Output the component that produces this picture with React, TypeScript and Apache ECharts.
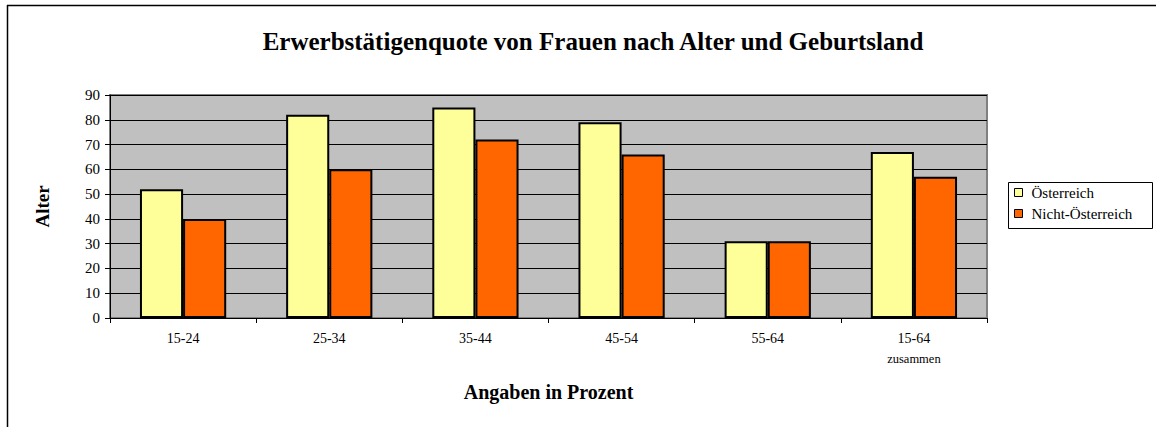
import React, { useEffect, useRef } from "react";
import * as echarts from "echarts";

const categories = ["15-24", "25-34", "35-44", "45-54", "55-64", "15-64\nzusammen"];
const oesterreich = [52, 82, 85, 79, 31, 67];
const nichtOesterreich = [40, 60, 72, 66, 31, 57];
const seriesNames = ["Österreich", "Nicht-Österreich"];
const titleText = "Erwerbstätigenquote von Frauen nach Alter und Geburtsland";
const yAxisTitle = "Alter";
const xAxisTitle = "Angaben in Prozent";

const SERIF = "'Liberation Serif', 'DejaVu Serif', serif";

export default function App() {
  const ref = useRef<HTMLDivElement>(null);
  useEffect(() => {
    if (!ref.current) return;
    const chart = echarts.init(ref.current, null, { renderer: "svg" });
    chart.setOption({
      animation: false,
      backgroundColor: "#ffffff",
      title: {
        text: titleText,
        left: 588,
        textAlign: "center",
        top: 24,
        textStyle: { fontFamily: SERIF, fontWeight: "bold", fontSize: 25, color: "#000" },
      },
      legend: {
        orient: "vertical",
        left: 1014,
        top: 185,
        itemWidth: 8,
        itemHeight: 8,
        itemGap: 6,
        icon: "rect",
        padding: 0,
        textStyle: { fontFamily: SERIF, fontSize: 15, color: "#000", padding: [0, 0, 0, 4] },
        data: seriesNames.map((n) => ({ name: n, itemStyle: { borderColor: "#000", borderWidth: 1 } })),
      },
      grid: {
        left: 110,
        right: 169,
        top: 95,
        bottom: 109,
        show: true,
        backgroundColor: "#c0c0c0",
        borderColor: "#808080",
        borderWidth: 2,
      },
      xAxis: {
        type: "category",
        data: categories,
        name: xAxisTitle,
        nameLocation: "middle",
        nameGap: 64,
        nameTextStyle: { fontFamily: SERIF, fontWeight: "bold", fontSize: 20, color: "#000" },
        axisLine: { lineStyle: { color: "#000", width: 1 } },
        axisTick: { show: true, length: 5, lineStyle: { color: "#000" } },
        axisLabel: {
          color: "#000",
          fontFamily: SERIF,
          fontSize: 14,
          margin: 10,
          lineHeight: 20,
          formatter: (v: string) => {
            const parts = v.split("\n");
            return parts.length > 1 ? parts[0] + "\n{s|" + parts[1] + "}" : v;
          },
          rich: { s: { fontSize: 12.5, fontFamily: SERIF, color: "#000", lineHeight: 22 } },
        },
      },
      yAxis: {
        type: "value",
        min: 0,
        max: 90,
        interval: 10,
        name: yAxisTitle,
        nameLocation: "middle",
        nameRotate: 90,
        nameGap: 58,
        nameTextStyle: { fontFamily: SERIF, fontWeight: "bold", fontSize: 19, color: "#000" },
        axisLine: { show: true, lineStyle: { color: "#000", width: 1 } },
        axisTick: { show: true, length: 5, lineStyle: { color: "#000" } },
        axisLabel: { color: "#000", fontFamily: SERIF, fontSize: 15, margin: 10 },
        splitLine: { show: true, lineStyle: { color: "#000", width: 1 } },
      },
      series: [
        {
          name: seriesNames[0],
          type: "bar",
          data: oesterreich,
          barGap: "0%",
          barCategoryGap: "41%",
          itemStyle: { color: "#ffff99", borderColor: "#000", borderWidth: 2 },
        },
        {
          name: seriesNames[1],
          type: "bar",
          data: nichtOesterreich,
          barGap: "0%",
          barCategoryGap: "41%",
          itemStyle: { color: "#ff6600", borderColor: "#000", borderWidth: 2 },
        },
      ],
      graphic: [
        {
          type: "line",
          shape: { x1: 7.5, y1: 5, x2: 7.5, y2: 427 },
          style: { stroke: "#000", lineWidth: 1.5 },
        },
        {
          type: "line",
          shape: { x1: 7, y1: 5.5, x2: 1156, y2: 5.5 },
          style: { stroke: "#000", lineWidth: 1.5 },
        },
        {
          type: "rect",
          shape: { x: 1008.5, y: 182.5, width: 144, height: 46 },
          style: { fill: "none", stroke: "#000", lineWidth: 1 },
        },
      ],
    });
    return () => chart.dispose();
  }, []);
  return (
    <div
      ref={ref}
      style={{ position: "absolute", left: 0, top: 0, width: 1156, height: 427 }}
    />
  );
}
